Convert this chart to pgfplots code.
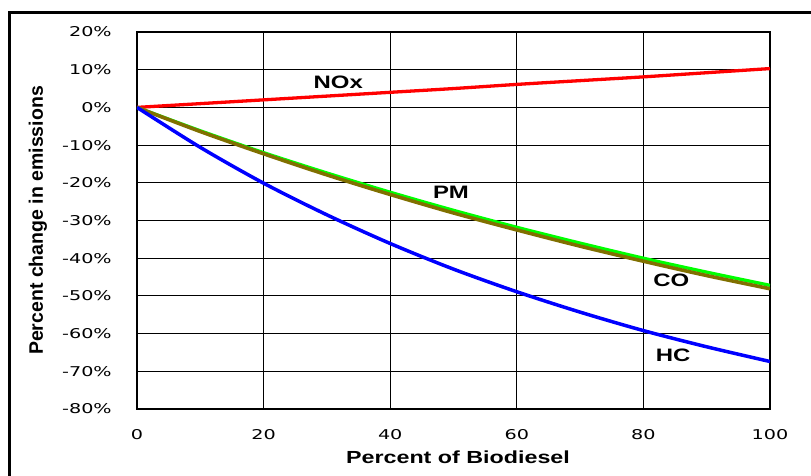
\documentclass[border=0pt]{standalone}
\usepackage{fontspec}
\setmainfont{Liberation Sans}
\newfontfamily\tickfont{DejaVu Sans}
\usepackage{pgfplots}
\usepackage{pgfplotstable}
\pgfplotsset{compat=1.18}

\definecolor{noxred}{RGB}{255,0,0}
\definecolor{pmgreen}{RGB}{0,255,0}
\definecolor{coolive}{RGB}{128,112,0}
\definecolor{hcblue}{RGB}{0,0,255}

% percent change in emissions vs. percent of biodiesel
\pgfplotstableread{
pct  nox   pm     co     hc
0    0.0   0.0    0.0    0.0
10   1.0   -6.2   -6.4   -10.6
20   2.0   -12.0  -12.3  -20.1
30   3.0   -17.4  -17.9  -28.5
40   4.0   -22.5  -23.1  -36.1
50   5.0   -27.3  -28.0  -42.9
60   6.1   -31.8  -32.5  -48.9
70   7.1   -36.0  -36.8  -54.3
80   8.1   -40.0  -40.8  -59.2
90   9.2   -43.7  -44.6  -63.5
100  10.3  -47.2  -48.1  -67.4
}\emissions

\begin{document}
\begin{tikzpicture}
\useasboundingbox (-137pt,-66pt) rectangle (674pt,409pt);
% outer frame of the picture (only left and top edges are visible)
\draw[black, line width=3pt] (-127.5pt,-70pt) -- (-127.5pt,396.5pt) -- (680pt,396.5pt);
\begin{axis}[
  scale only axis, width=633pt, height=377pt,
  xmin=0, xmax=100, ymin=-80, ymax=20,
  xtick={0,20,...,100}, ytick={-80,-70,...,20},
  grid=major,
  major grid style={black, line width=1.1pt},
  axis line style={black, line width=2pt},
  major tick length=0pt,
  yticklabel={\pgfmathprintnumber{\tick}\%},
  /pgf/number format/assume math mode=true,
  tick label style={font=\tickfont\fontsize{13.5}{15}\selectfont, inner sep=0pt},
  yticklabel style={anchor=east, xshift=-25pt, xscale=1.42},
  xticklabel style={anchor=north, yshift=-20pt, xscale=1.42},
  xlabel={Percent of Biodiesel},
  xlabel style={font=\bfseries\fontsize{17.5}{20}\selectfont, at={(rel axis cs:0.5,0)},
    anchor=base, yshift=-54pt, xshift=4.5pt, xscale=1.33},
  ylabel={Percent change in emissions},
  ylabel style={font=\bfseries\fontsize{19.5}{22}\selectfont, at={(rel axis cs:0,0.5)},
    anchor=center, yshift=99pt},
  every axis plot/.append style={no markers, smooth},
]
\draw[black, line width=1.7pt] (axis cs:0,0) -- (axis cs:100,0);
\addplot[noxred, line width=3.3pt] table[x=pct, y=nox] {\emissions};
\addplot[pmgreen, line width=3.3pt] table[x=pct, y=pm] {\emissions};
\addplot[coolive, line width=3.6pt] table[x=pct, y=co] {\emissions};
\addplot[hcblue, line width=3.5pt] table[x=pct, y=hc] {\emissions};
\node[font=\bfseries\fontsize{18}{20}\selectfont, xscale=1.33] at (axis cs:31.8,6.7) {NOx};
\node[font=\bfseries\fontsize{18}{20}\selectfont, xscale=1.33] at (axis cs:49.6,-22.4) {PM};
\node[font=\bfseries\fontsize{18}{20}\selectfont, xscale=1.33] at (axis cs:84.4,-45.8) {CO};
\node[font=\bfseries\fontsize{18}{20}\selectfont, xscale=1.33] at (axis cs:84.7,-65.7) {HC};
\end{axis}
\end{tikzpicture}
\end{document}
